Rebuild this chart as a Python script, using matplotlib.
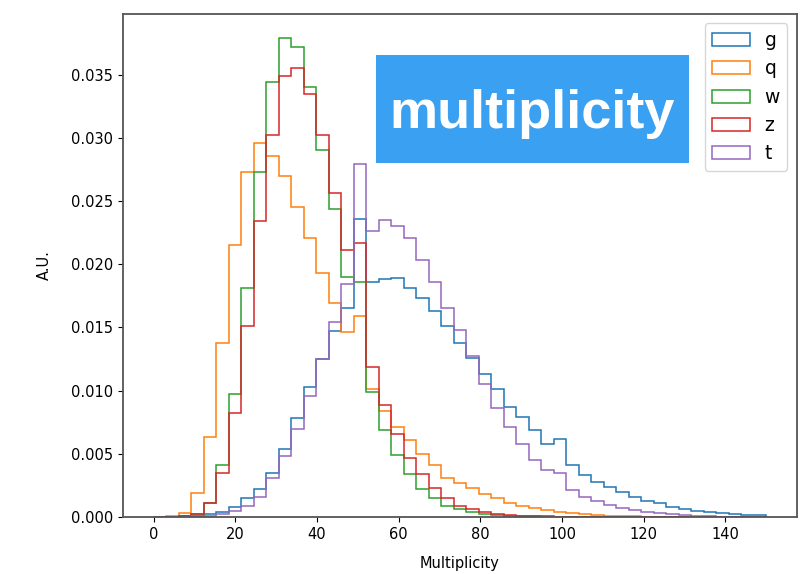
import numpy as np
import matplotlib
matplotlib.use("Agg")
import matplotlib.pyplot as plt
from matplotlib.patches import Rectangle

# 49 bins spanning 0..150
bin_edges = np.linspace(0, 150, 50)

labels = ["g", "q", "w", "z", "t"]

g_vals = [0, 0.00002, 0.00005, 0.0001, 0.0002, 0.0004, 0.0008, 0.0015, 0.0022, 0.0035,
          0.0054, 0.0078, 0.0103, 0.0125, 0.0147, 0.0165, 0.0236, 0.0186, 0.0188, 0.0189,
          0.0181, 0.0173, 0.0163, 0.0151, 0.0138, 0.0126, 0.0113, 0.0101, 0.0087, 0.0079,
          0.0069, 0.0058, 0.0062, 0.0041, 0.0033, 0.0028, 0.0024, 0.0020, 0.0016, 0.0013,
          0.0011, 0.0008, 0.0006, 0.0005, 0.0004, 0.0003, 0.00024, 0.00018, 0.00012]

q_vals = [0, 0.0001, 0.0003, 0.0019, 0.0063, 0.0138, 0.0215, 0.0273, 0.0296, 0.0286,
          0.0270, 0.0245, 0.0221, 0.0193, 0.0169, 0.0146, 0.0159, 0.0101, 0.0084, 0.0071,
          0.0061, 0.0050, 0.0041, 0.0031, 0.0027, 0.0023, 0.0018, 0.0015, 0.0011, 0.0009,
          0.0007, 0.00055, 0.00042, 0.0003, 0.00022, 0.00016, 0.00011, 0.00008, 0.00005, 0.00003,
          0.00002, 0.00001, 0.00001, 0, 0, 0, 0, 0, 0]

w_vals = [0, 0, 0.00005, 0.0002, 0.0011, 0.0041, 0.0097, 0.0181, 0.0273, 0.0344,
          0.0379, 0.0372, 0.0340, 0.0290, 0.0244, 0.0190, 0.0186, 0.0099, 0.0069, 0.0049,
          0.0034, 0.0022, 0.0015, 0.0009, 0.0006, 0.0004, 0.00025, 0.00015, 0.0001, 0.00006,
          0.00004, 0.00002, 0, 0, 0, 0, 0, 0, 0, 0,
          0, 0, 0, 0, 0, 0, 0, 0, 0]

z_vals = [0, 0, 0.00005, 0.0002, 0.0011, 0.0035, 0.0082, 0.0151, 0.0234, 0.0302,
          0.0349, 0.0355, 0.0335, 0.0302, 0.0256, 0.0211, 0.0217, 0.0119, 0.0089, 0.0066,
          0.0047, 0.0034, 0.0023, 0.0015, 0.0009, 0.0006, 0.0004, 0.00025, 0.00015, 0.0001,
          0.00006, 0.00004, 0.00002, 0, 0, 0, 0, 0, 0, 0,
          0, 0, 0, 0, 0, 0, 0, 0, 0]

t_vals = [0, 0, 0, 0.00005, 0.0001, 0.0002, 0.0005, 0.0009, 0.0016, 0.0031,
          0.0048, 0.0070, 0.0096, 0.0125, 0.0154, 0.0184, 0.0279, 0.0226, 0.0235, 0.0230,
          0.0221, 0.0203, 0.0186, 0.0165, 0.0148, 0.0127, 0.0105, 0.0086, 0.0071, 0.0058,
          0.0045, 0.0037, 0.0035, 0.0021, 0.0016, 0.00125, 0.00097, 0.00075, 0.00058, 0.0004,
          0.0003, 0.0002, 0.00015, 0.0001, 0.00006, 0.00003, 0, 0, 0]

series = [g_vals, q_vals, w_vals, z_vals, t_vals]
colors = ["#1f77b4", "#ff7f0e", "#2ca02c", "#d62728", "#9467bd"]

plt.rcParams["font.family"] = ["DejaVu Sans"]
plt.rcParams["font.size"] = 10.5

fig = plt.figure(figsize=(8.09, 5.74), dpi=100)
ax = fig.add_axes([0.152, 0.0993, 0.833, 0.8763])

centers = 0.5 * (bin_edges[:-1] + bin_edges[1:])
for vals, lab, col in zip(series, labels, colors):
    ax.hist(centers, bins=bin_edges, weights=vals, histtype="step",
            color=col, label=lab, linewidth=1.1)

ax.set_xlabel("Multiplicity", labelpad=10)
ax.set_ylabel("A.U.", labelpad=14)
ax.set_xticks([0, 20, 40, 60, 80, 100, 120, 140])
ax.set_yticks(np.arange(0, 0.0351, 0.005))
ax.set_yticklabels([f"{v:.3f}" for v in np.arange(0, 0.0351, 0.005)])
for s in ax.spines.values():
    s.set_color("#555555")
    s.set_linewidth(1.3)

ax.legend(loc="upper right", fontsize=13.5)

# label box
fig.add_artist(Rectangle((376 / 809, 1 - 163 / 574), 313 / 809, 108 / 574,
                         transform=fig.transFigure, facecolor="#3aa0f2",
                         edgecolor="none", zorder=5))
fig.text(532 / 809, 1 - 128 / 574, "multiplicity", color="white",
         fontsize=39, fontweight="bold", family=["Liberation Sans", "DejaVu Sans"],
         ha="center", va="baseline", zorder=6)

fig.savefig("out.png", dpi=100)
